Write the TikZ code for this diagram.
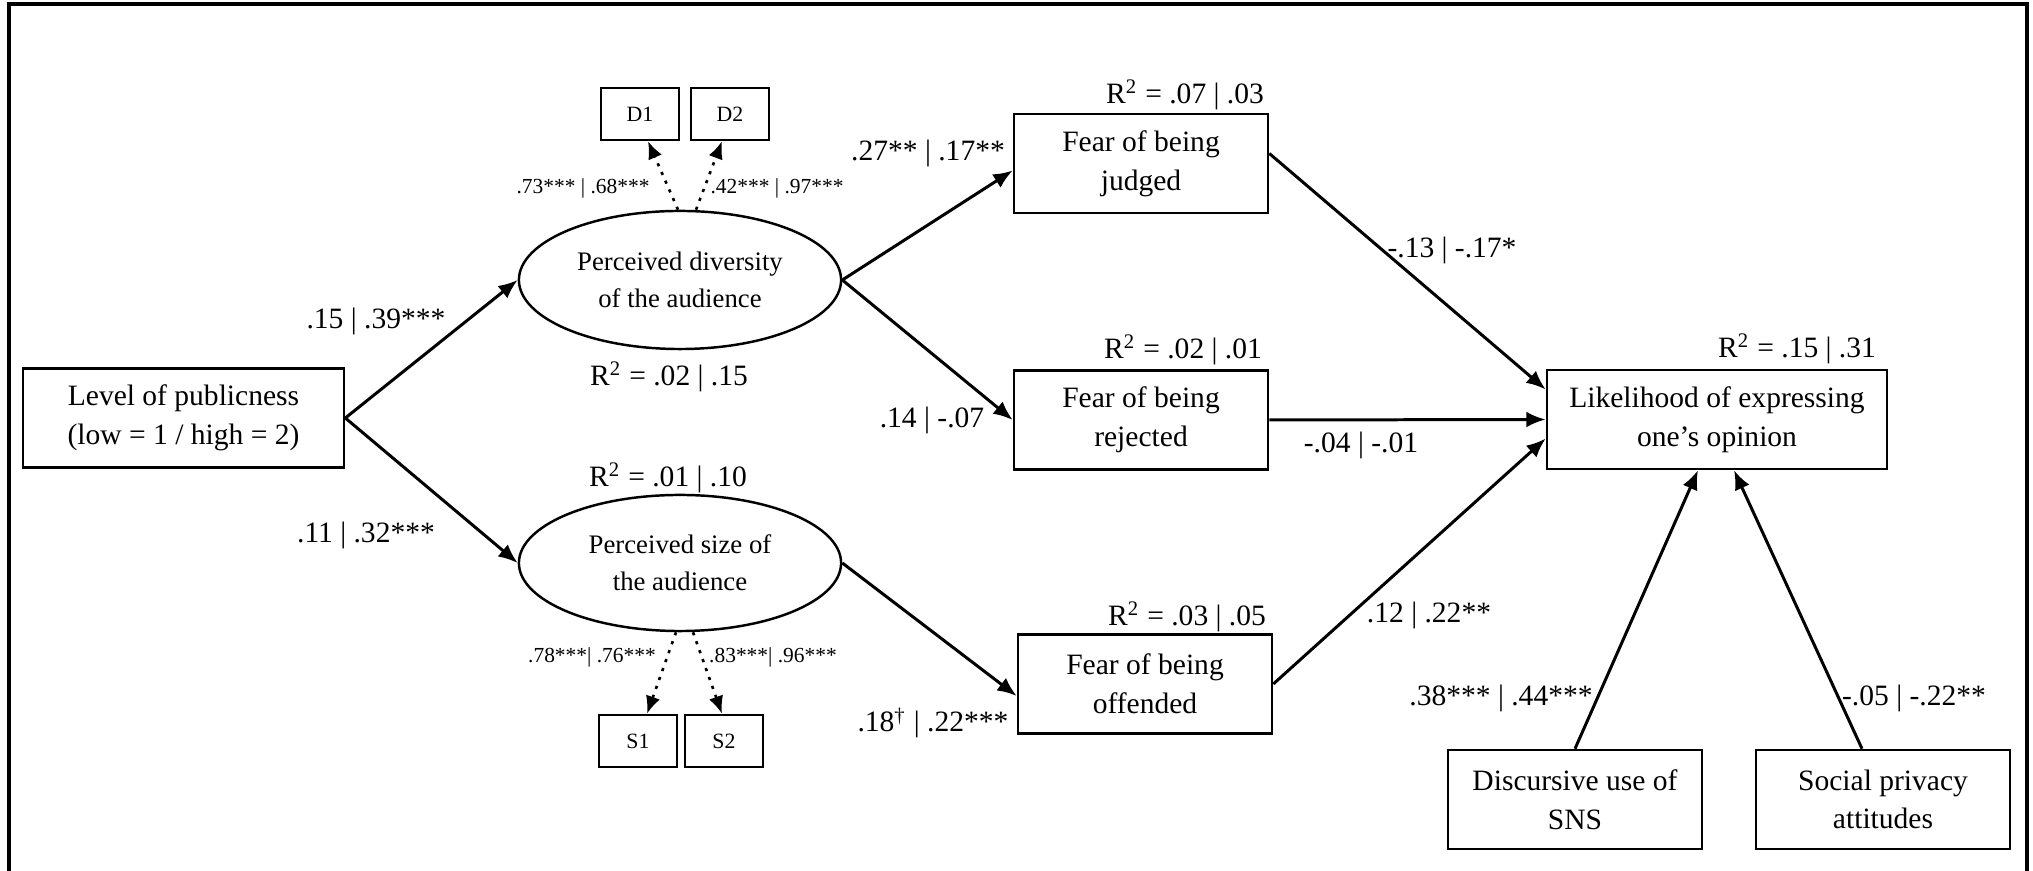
\documentclass[tikz,border=0pt]{standalone}
\usepackage{fontspec}
\setmainfont{Liberation Serif}
\usetikzlibrary{shapes.geometric,arrows.meta}

\begin{document}
\begin{tikzpicture}[x=0.01cm,y=-0.01cm,
  varbox/.style={draw,line width=0.7pt,minimum width=2.54cm,minimum height=0.99cm,inner sep=0pt,align=center,font=\fontsize{8.4}{11}\selectfont},
  latentvar/.style={draw,ellipse,line width=0.7pt,minimum width=3.22cm,minimum height=1.38cm,inner sep=0pt,align=center,font=\fontsize{7.6}{10.4}\selectfont},
  itembox/.style={draw,line width=0.7pt,minimum width=0.78cm,minimum height=0.52cm,inner sep=0pt,font=\fontsize{6.2}{7.5}\selectfont},
  coef/.style={inner sep=0pt,font=\fontsize{8.4}{10}\selectfont},
  smallcoef/.style={inner sep=0pt,font=\fontsize{6.1}{7}\selectfont},
  patharrow/.style={line width=0.85pt,-{Latex[length=5.5pt,width=4.5pt]}},
  loadarrow/.style={line width=0.75pt,dash pattern=on 0.9pt off 1.8pt,-{Latex[length=5pt,width=4.2pt]}}]
  \useasboundingbox (0,0) rectangle (2033,871);
  \draw[line width=1.1pt] (9,871) -- (9,4) -- (2027,4) -- (2027,871);

  \node[varbox,minimum width=3.21cm] (level) at (183.5,418) {Level of publicness\\(low = 1 / high = 2)};
  \node[latentvar] (div) at (680,280) {Perceived diversity\\of the audience};
  \node[latentvar,minimum height=1.36cm] (size) at (680,563) {Perceived size of\\the audience};
  \node[itembox] (d1) at (640,114) {D1};
  \node[itembox] (d2) at (730,114) {D2};
  \node[itembox] (s1) at (638,741) {S1};
  \node[itembox] (s2) at (724,741) {S2};
  \node[varbox] (judged) at (1141,163.5) {Fear of being\\judged};
  \node[varbox] (rejected) at (1141,420) {Fear of being\\rejected};
  \node[varbox] (offended) at (1145,684) {Fear of being\\offended};
  \node[varbox,minimum width=3.40cm] (likely) at (1717,419.5) {Likelihood of expressing\\one’s opinion};
  \node[varbox] (discursive) at (1575,799.5) {Discursive use of\\SNS};
  \node[varbox] (privacy) at (1883,799.5) {Social privacy\\attitudes};

  \node[coef] (rdiv) at (669,377) {R\textsuperscript{2} = .02 | .15};
  \node[coef] (rsize) at (668,478) {R\textsuperscript{2} = .01 | .10};
  \node[coef] (rjudged) at (1185,95) {R\textsuperscript{2} = .07 | .03};
  \node[coef] (rrejected) at (1183,350) {R\textsuperscript{2} = .02 | .01};
  \node[coef] (roffended) at (1187,617) {R\textsuperscript{2} = .03 | .05};
  \node[coef] (rlikely) at (1797,349) {R\textsuperscript{2} = .15 | .31};

  \node[coef] (clevdiv) at (376,321) {.15 | .39***};
  \node[coef] (clevsize) at (366,535) {.11 | .32***};
  \node[coef] (cdivjud) at (928,153) {.27** | .17**};
  \node[coef] (cdivrej) at (932,420) {.14 | -.07};
  \node[coef] (csizeoff) at (933,723) {.18\textsuperscript{\textdagger} | .22***};
  \node[coef] (cjudlik) at (1452,250) {-.13 | -.17*};
  \node[coef] (crejlik) at (1361,445) {-.04 | -.01};
  \node[coef] (cofflik) at (1429,615) {.12 | .22**};
  \node[coef] (cdislik) at (1501,698) {.38*** | .44***};
  \node[coef] (cprilik) at (1914,698) {-.05 | -.22**};
  \node[smallcoef] (cd1) at (583,188) {.73*** | .68***};
  \node[smallcoef] (cd2) at (777,188) {.42*** | .97***};
  \node[smallcoef] (cs1) at (592,657) {.78***| .76***};
  \node[smallcoef] (cs2) at (773,657) {.83***| .96***};

  \draw[patharrow] (level.east) -- (div.west);
  \draw[patharrow] (level.east) -- (size.west);
  \draw[patharrow] (div.east) -- ([yshift=-0.7mm]judged.west);
  \draw[patharrow] (div.east) -- (rejected.west);
  \draw[patharrow] (size.east) -- ([yshift=-1.2mm]offended.west);
  \draw[patharrow] ([yshift=1mm]judged.east) -- ([yshift=3mm]likely.west);
  \draw[patharrow] (rejected.east) -- (likely.west);
  \draw[patharrow] (offended.east) -- ([yshift=-1.9mm]likely.west);
  \draw[patharrow] (discursive.north) -- ([xshift=-1.9mm]likely.south);
  \draw[patharrow] ([xshift=-2.1mm]privacy.north) -- ([xshift=1.7mm]likely.south);
  \draw[loadarrow] ([xshift=-0.2mm]div.north) -- ([xshift=0.8mm]d1.south);
  \draw[loadarrow] ([xshift=1.6mm]div.north) -- ([xshift=-0.8mm]d2.south);
  \draw[loadarrow] ([xshift=-0.4mm]size.south) -- ([xshift=0.9mm]s1.north);
  \draw[loadarrow] ([xshift=1.3mm]size.south) -- ([xshift=-0.2mm]s2.north);
\end{tikzpicture}
\end{document}
